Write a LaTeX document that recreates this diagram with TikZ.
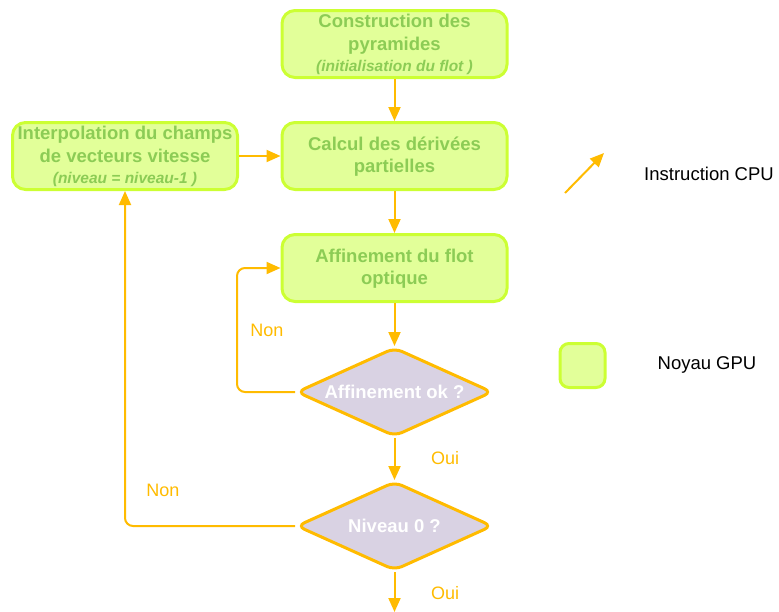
\documentclass[tikz,border=0pt]{standalone}
\usepackage{fontspec}
\setmainfont{Liberation Sans}
\usetikzlibrary{shapes.geometric,arrows.meta}
\definecolor{limeb}{RGB}{204,255,51}
\definecolor{limef}{RGB}{226,255,153}
\definecolor{gtext}{RGB}{140,204,85}
\definecolor{orng}{RGB}{255,187,0}
\definecolor{lav}{RGB}{217,210,227}
\tikzset{
  gpubox/.style={draw=limeb, fill=limef, line width=3pt, rounded corners=13pt,
    minimum width=225pt, minimum height=67pt, inner sep=0pt, align=center,
    text=gtext, font=\fontsize{18.5}{22.5}\selectfont\bfseries},
  decision/.style={diamond, draw=orng, fill=lav, line width=3pt, rounded corners=8pt,
    minimum width=196pt, minimum height=89pt, aspect=2.2, inner sep=0pt,
    text=white, font=\fontsize{18.5}{22.5}\selectfont\bfseries},
  arr/.style={draw=orng, line width=2pt, -{Triangle[length=14pt,width=12pt]}},
  lbl/.style={text=orng, font=\fontsize{18}{22}\selectfont},
  leg/.style={text=black, font=\fontsize{18.5}{22}\selectfont}
}
\begin{document}
\begin{tikzpicture}[x=1pt,y=-1pt]
\useasboundingbox (0,0) rectangle (779,611);
\node[gpubox] (cons) at (394.5,44) {\rule{0pt}{15pt}Construction des\\pyramides\\[-1pt]{\fontsize{15.5}{18}\selectfont\bfseries\itshape (initialisation du flot )}};
\node[gpubox] (calc) at (394.5,156) {\rule{0pt}{15pt}Calcul des dérivées\\partielles};
\node[gpubox] (interp) at (125,156) {\rule{0pt}{15pt}Interpolation du champs\\de vecteurs vitesse\\[-1pt]{\fontsize{15.5}{18}\selectfont\bfseries\itshape (niveau = niveau-1 )}};
\node[gpubox] (aff) at (394.5,268) {\rule{0pt}{15pt}Affinement du flot\\optique};
\node[decision] (d1) at (394.5,392) {Affinement ok ?};
\node[decision] (d2) at (394.5,526) {Niveau 0 ?};
\coordinate (end) at (394.5,612);

\draw[arr] (cons) -- (calc);
\draw[arr] (calc) -- (aff);
\draw[arr] (aff) -- (d1);
\draw[arr] (d1) -- (d2);
\draw[arr] (d2) -- (end);
\draw[arr] (interp) -- (calc);
\draw[arr, rounded corners=8pt] (d1.west) -- ++(-58,0) |- (aff.west);
\draw[arr, rounded corners=8pt] (d2.west) -| (interp.south);

\node[lbl] (non1) at (267,330) {Non};
\node[lbl] (oui1) at (445,458) {Oui};
\node[lbl] (non2) at (163,490) {Non};
\node[lbl] (oui2) at (445,593) {Oui};

\coordinate (la0) at (565,193);
\coordinate (la1) at (604,153);
\draw[arr] (la0) -- (la1);
\node[leg] (cpu) at (709,174) {Instruction CPU};
\node[draw=limeb, fill=limef, line width=3pt, rounded corners=9pt, minimum width=45pt, minimum height=44pt, inner sep=0pt] (lgpu) at (582.5,365.5) {};
\node[leg] (gpu) at (707,365) {Noyau GPU};
\end{tikzpicture}
\end{document}
